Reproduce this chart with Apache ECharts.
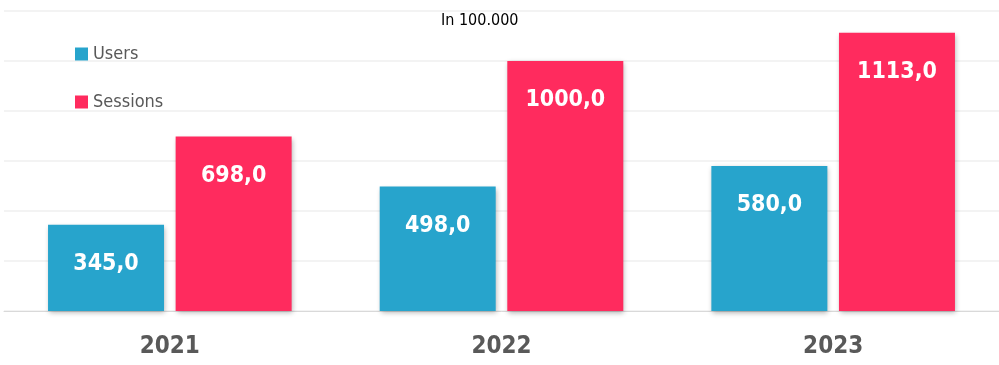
<!DOCTYPE html>
<html><head><meta charset="utf-8">
<script src="https://cdn.jsdelivr.net/npm/echarts@6/dist/echarts.min.js"></script>
<style>html,body{margin:0;padding:0;background:#fff}#c{width:999px;height:365px}</style>
</head><body><div id="c"></div>
<script>
var categories = ['2021', '2022', '2023'];
var users = [345, 498, 580];
var sessions = [698, 1000, 1113];
var FONT = '"DejaVu Sans Condensed", "Liberation Sans Narrow", sans-serif';
var chart = echarts.init(document.getElementById('c'));
var labelStyle = {
  show: true, position: 'insideTop', distance: 28, color: '#fff',
  fontFamily: FONT, fontWeight: 'bold', fontSize: 23,
  formatter: function (p) { return p.value.toFixed(1).replace('.', ','); }
};
var itemShadow = { shadowBlur: 5, shadowOffsetX: 1, shadowOffsetY: 2, shadowColor: 'rgba(0,0,0,0.3)' };
chart.setOption({
  animation: false,
  title: { text: 'In 100.000', left: 436, top: 8, textStyle: { fontFamily: FONT, fontWeight: 'normal', fontSize: 16, color: '#000' } },
  legend: {
    orient: 'vertical', left: 70, top: 40, icon: 'rect', itemWidth: 13, itemHeight: 13, itemGap: 30,
    textStyle: { fontFamily: FONT, fontSize: 18, color: '#595959', lineHeight: 18 },
    data: ['Users', 'Sessions']
  },
  grid: { left: 4, width: 999, top: 11, height: 300 },
  xAxis: {
    type: 'category', data: categories,
    axisTick: { show: false },
    axisLine: { lineStyle: { color: '#d9d9d9', width: 1 } },
    axisLabel: { margin: 24, color: '#595959', fontFamily: FONT, fontWeight: 'bold', fontSize: 24 }
  },
  yAxis: {
    type: 'value', min: 0, max: 1200, interval: 200,
    axisLabel: { show: false }, axisLine: { show: false }, axisTick: { show: false },
    splitLine: { lineStyle: { color: '#efefef', width: 1.5 } }
  },
  series: [
    { name: 'Users', type: 'bar', data: users, barWidth: 116, barGap: '10%',
      itemStyle: Object.assign({ color: '#27A4CC' }, itemShadow), label: labelStyle },
    { name: 'Sessions', type: 'bar', data: sessions, barWidth: 116,
      itemStyle: Object.assign({ color: '#FF2B5E' }, itemShadow), label: labelStyle }
  ]
});
</script></body></html>
